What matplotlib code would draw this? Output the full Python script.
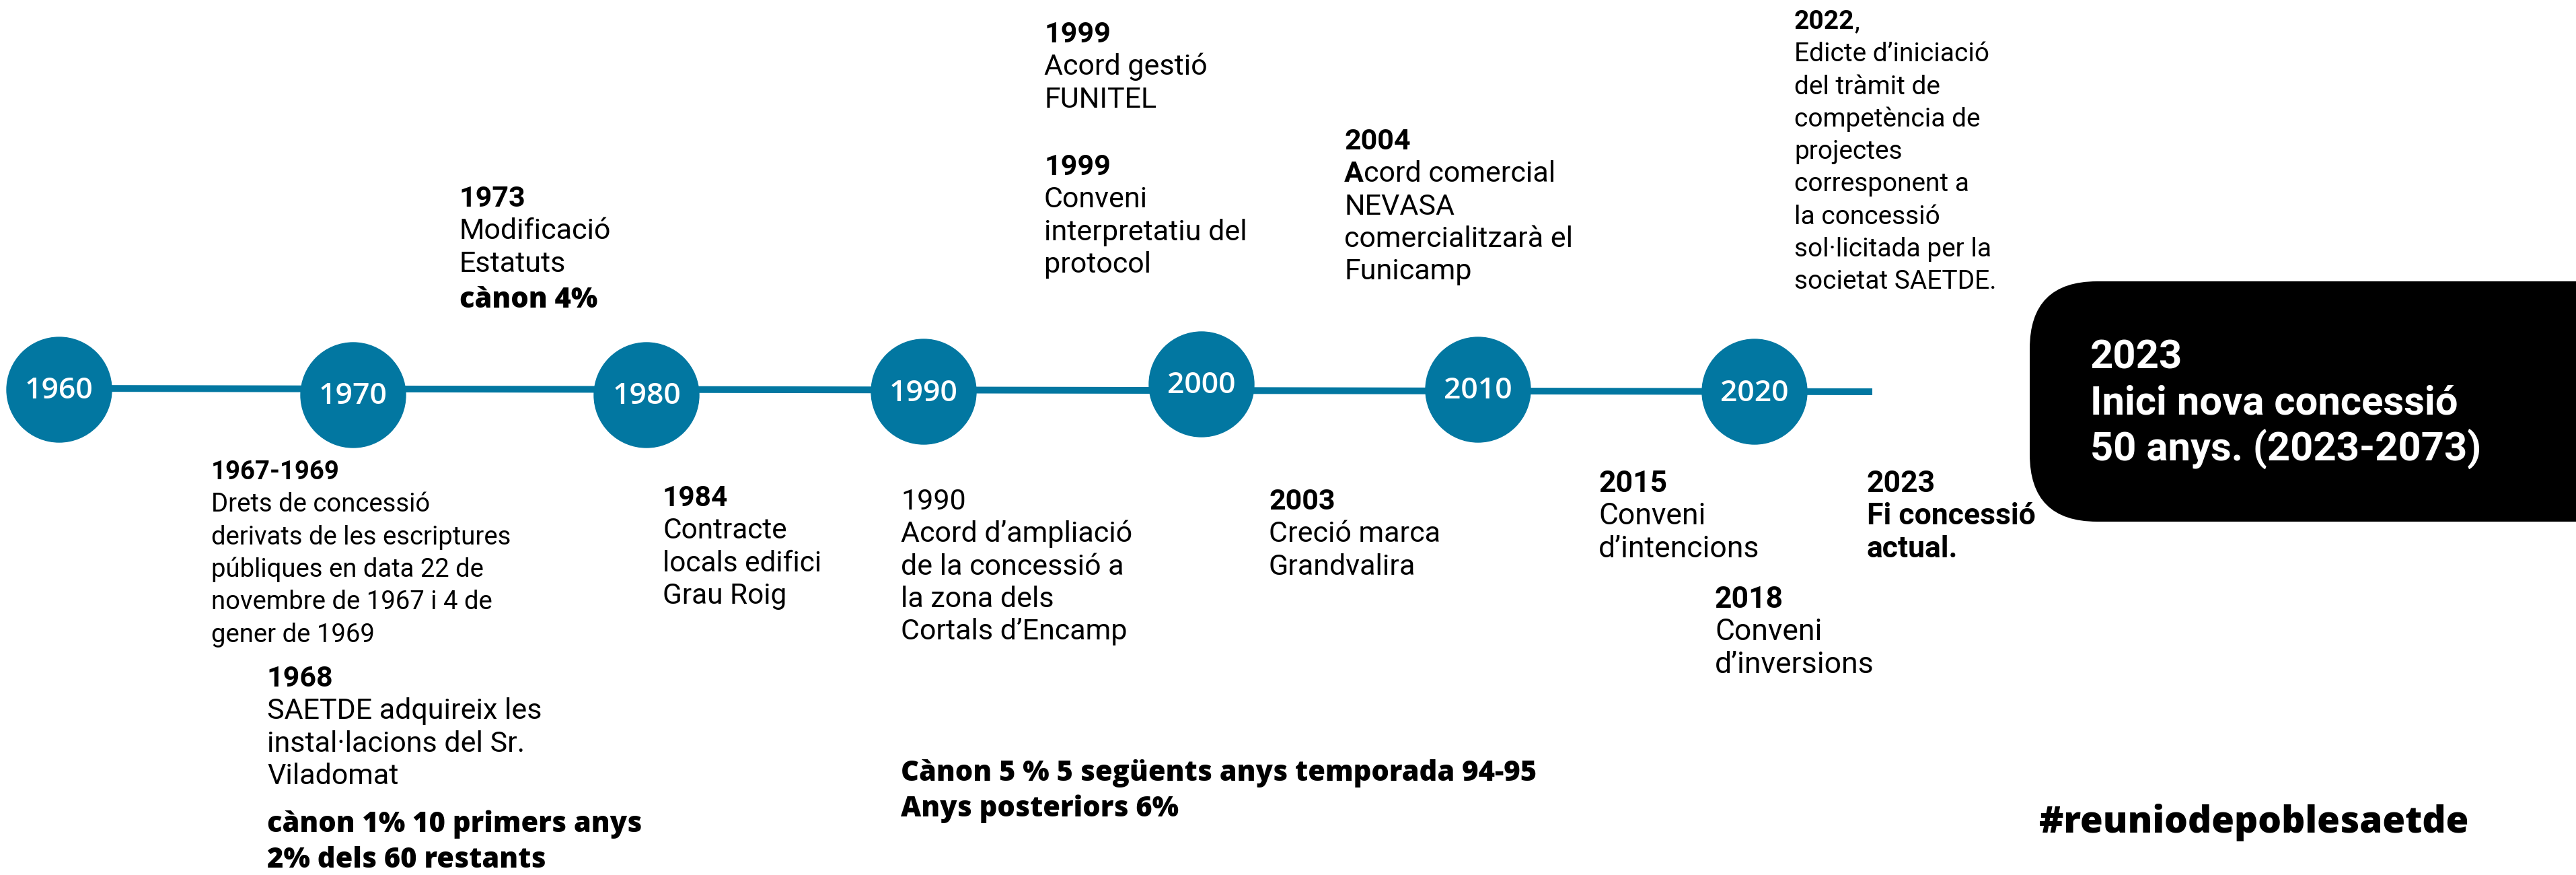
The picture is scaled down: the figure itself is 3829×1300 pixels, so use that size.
# timeline of the SAETDE concession, drawn in pixel coordinates

import matplotlib.pyplot as plt
from matplotlib.patches import Circle, FancyBboxPatch

W, H = 3829, 1300
BLUE = '#0277a1'

plt.rcParams['font.family'] = ['Roboto', 'DejaVu Sans']

# decade markers on the line
decades = ['1960', '1970', '1980', '1990', '2000', '2010', '2020']
decade_x = [88, 525, 961, 1373, 1786, 2197, 2608]
decade_y = [579, 587, 587, 582, 571, 579, 582]
line_x = [88, 2783]
line_y = [577, 582]

# event blocks: title baseline position, title, following lines
block_x = [314, 397, 683, 985, 1339, 1552, 1552, 1886, 1998, 2376, 2549, 2775, 2667]
block_y = [712, 1020, 307, 752, 757, 63, 260, 757, 222, 731, 903, 731, 43]
block_size = [27.5, 31, 31, 30.5, 31, 31, 31, 31, 31, 32, 32, 32, 28]
block_title = ['1967-1969', '1968', '1973', '1984', '1990', '1999', '1999',
               '2003', '2004', '2015', '2018', '2023', '2022']
block_lines = [
    ['Drets de concessió', 'derivats de les escriptures', 'públiques en data 22 de',
     'novembre de 1967 i 4 de', 'gener de 1969'],
    ['SAETDE adquireix les', 'instal·lacions del Sr.', 'Viladomat'],
    ['Modificació', 'Estatuts'],
    ['Contracte', 'locals edifici', 'Grau Roig'],
    ['Acord d’ampliació', 'de la concessió a', 'la zona dels', 'Cortals d’Encamp'],
    ['Acord gestió', 'FUNITEL'],
    ['Conveni', 'interpretatiu del', 'protocol'],
    ['Creció marca', 'Grandvalira'],
    ['Acord comercial', 'NEVASA', 'comercialitzarà el', 'Funicamp'],
    ['Conveni', 'd’intencions'],
    ['Conveni', 'd’inversions'],
    ['Fi concessió', 'actual.'],
    ['Edicte d’iniciació', 'del tràmit de', 'competència de', 'projectes',
     'corresponent a', 'la concessió', 'sol·licitada per la', 'societat SAETDE.'],
]
LINE_STEP = 48.3

# royalty notes (extra bold)
canon_x = [683, 397, 1339]
canon_y = [457, 1236, 1160]
canon_lines = [['cànon 4%'],
               ['cànon 1% 10 primers anys', '2% dels 60 restants'],
               ['Cànon 5 % 5 següents anys temporada 94-95', 'Anys posteriors 6%']]
CANON_STEP = 53

box_lines = ['2023', 'Inici nova concessió', '50 anys. (2023-2073)']
hashtag = '#reuniodepoblesaetde'

fig = plt.figure(figsize=(W / 100, H / 100), dpi=100)
ax = fig.add_axes([0, 0, 1, 1])
ax.set_xlim(0, W)
ax.set_ylim(H, 0)
ax.axis('off')


def run(x, y, parts, **kw):
    # draw text pieces of different weights one after another on a line
    t = ax.text(x, y, parts[0][0], fontweight=parts[0][1], va='baseline', **kw)
    for s, w in parts[1:]:
        t = ax.annotate(s, xy=(1, 0), xycoords=t, va='bottom', ha='left',
                        fontweight=w, **kw)
    return t


ax.plot(line_x, line_y, color=BLUE, lw=7.2, solid_capstyle='butt', zorder=1)
for lab, x, y in zip(decades, decade_x, decade_y):
    ax.add_patch(Circle((x, y), 78, color=BLUE, zorder=2))
    ax.text(x, y + 2, lab, color='white', family='Open Sans', fontweight='semibold',
            fontsize=32, ha='center', va='center', zorder=3)

for x, y, fs, title, lines in zip(block_x, block_y, block_size, block_title, block_lines):
    if title == '1990':
        run(x, y, [(title, 'normal')], fontsize=fs)
    elif title == '2022':
        run(x, y, [(title, 'bold'), (',', 'normal')], fontsize=fs)
    else:
        run(x, y, [(title, 'bold')], fontsize=fs)
    body_w = 'bold' if title == '2023' else 'normal'
    for i, s in enumerate(lines):
        yy = y + (i + 1) * LINE_STEP
        if title == '2004' and i == 0:
            run(x, yy, [(s[0], 'bold'), (s[1:], 'normal')], fontsize=fs)
        else:
            run(x, yy, [(s, body_w)], fontsize=fs)

for x, y, lines in zip(canon_x, canon_y, canon_lines):
    for i, s in enumerate(lines):
        ax.text(x, y + i * CANON_STEP, s, family='Open Sans', fontweight='extra bold',
                fontsize=30, va='baseline')

ax.add_patch(FancyBboxPatch((3017, 418), 1000, 357,
                            boxstyle='round,pad=0,rounding_size=100',
                            fc='black', ec='none', zorder=2))
for i, s in enumerate(box_lines):
    ax.text(3107, 547 + i * 69, s, color='white', fontsize=43, fontweight='bold',
            va='baseline', zorder=3)

ax.text(3031, 1237, hashtag, family='Open Sans', fontweight='extra bold',
        fontsize=39.5, va='baseline')

fig.savefig('out.png', dpi=100)
